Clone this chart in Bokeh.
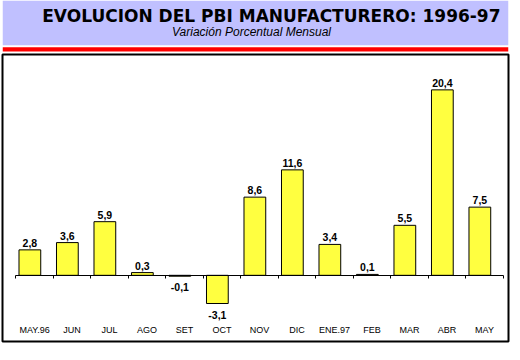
from bokeh.plotting import figure
from bokeh.models import (Range1d, ColumnDataSource, LinearAxis, FixedTicker,
                          BoxAnnotation, Label)
from bokeh.layouts import column
from bokeh.transform import dodge
from bokeh.embed import file_html
from bokeh.resources import INLINE
from bokeh.core.properties import value

# ---- data ----
months = ["MAY.96", "JUN", "JUL", "AGO", "SET", "OCT", "NOV", "DIC",
          "ENE.97", "FEB", "MAR", "ABR", "MAY"]
values = [2.8, 3.6, 5.9, 0.3, -0.1, -3.1, 8.6, 11.6, 3.4, 0.1, 5.5, 20.4, 7.5]
title_text = "EVOLUCION DEL PBI MANUFACTURERO: 1996-97"
subtitle_text = "Variación Porcentual Mensual"

idx = list(range(len(months)))
val_labels = [f"{v:.1f}".replace(".", ",") for v in values]
baselines = ["alphabetic" if v >= 0 else "top" for v in values]
offsets = [-7 if v >= 0 else 7 for v in values]

src = ColumnDataSource(dict(x=idx, top=values, lab=val_labels,
                            base=baselines, off=offsets))

# ---- header ----
W = 510
HH = 53
h = figure(width=W, height=HH, x_range=Range1d(0, W), y_range=Range1d(0, HH),
           min_border=0, toolbar_location=None, output_backend="svg",
           x_axis_location=None, y_axis_location=None)
h.outline_line_color = None
h.background_fill_color = "white"
h.border_fill_color = "white"
h.xgrid.visible = False
h.ygrid.visible = False
h.add_layout(BoxAnnotation(left=0, right=W, bottom=8.3, top=HH,
                           fill_color="#C0C0FF", fill_alpha=1, line_color=None))
h.add_layout(BoxAnnotation(left=0, right=W, bottom=2, top=6.3,
                           fill_color="#FF0000", fill_alpha=1, line_color=None))
h.add_layout(Label(x=271, y=37.7, text=title_text, text_align="center",
                   text_baseline="alphabetic", text_font="DejaVu Sans",
                   text_font_style="bold", text_font_size="17px",
                   text_color="black"))
h.add_layout(Label(x=251, y=22, text=subtitle_text, text_align="center",
                   text_baseline="alphabetic", text_font="Liberation Sans",
                   text_font_style="italic", text_font_size="12px",
                   text_color="black"))

# ---- chart ----
p = figure(width=W, height=291, x_range=Range1d(-0.855, 12.639),
           y_range=Range1d(-7.28, 24.29), toolbar_location=None,
           output_backend="svg", x_axis_location=None, y_axis_location=None,
           min_border_left=2, min_border_right=2, min_border_top=1,
           min_border_bottom=3)
p.xgrid.visible = False
p.ygrid.visible = False
p.outline_line_color = "black"
p.outline_line_width = 2
p.background_fill_color = "white"
p.border_fill_color = "white"

bx = dodge("x", -0.125, range=p.x_range)
p.vbar(x=bx, top="top", bottom=0, width=0.58, source=src,
       fill_color="#FFFF40", line_color="black", line_width=1)

p.text(x=bx, y="top", text="lab", source=src, text_align="center",
       text_baseline="base", y_offset="off",
       text_font=value("Liberation Sans"), text_font_style="bold",
       text_font_size="10.5px", text_color="black")

# zero axis with boundary ticks
zero_axis = LinearAxis(fixed_location=0,
                       ticker=FixedTicker(ticks=[i - 0.5 for i in range(len(months) + 1)]),
                       bounds=(-0.5, len(months) - 0.5))
zero_axis.axis_line_color = "black"
zero_axis.major_tick_line_color = "black"
zero_axis.major_tick_in = 0
zero_axis.major_tick_out = 3
zero_axis.minor_tick_line_color = None
zero_axis.major_label_text_font_size = "0px"
zero_axis.major_label_text_color = None
p.add_layout(zero_axis, "below")

# category label axis
lab_axis = LinearAxis(fixed_location=-5.47, ticker=FixedTicker(ticks=idx))
lab_axis.major_label_overrides = {i: m for i, m in zip(idx, months)}
lab_axis.axis_line_color = None
lab_axis.major_tick_line_color = None
lab_axis.minor_tick_line_color = None
lab_axis.major_tick_in = 0
lab_axis.major_tick_out = 0
lab_axis.major_label_standoff = 0
lab_axis.major_label_text_font = "Liberation Sans"
lab_axis.major_label_text_font_size = "9px"
lab_axis.major_label_text_color = "black"
p.add_layout(lab_axis, "below")

layout = column(h, p, spacing=0)
open("out.html", "w").write(file_html(layout, INLINE))
